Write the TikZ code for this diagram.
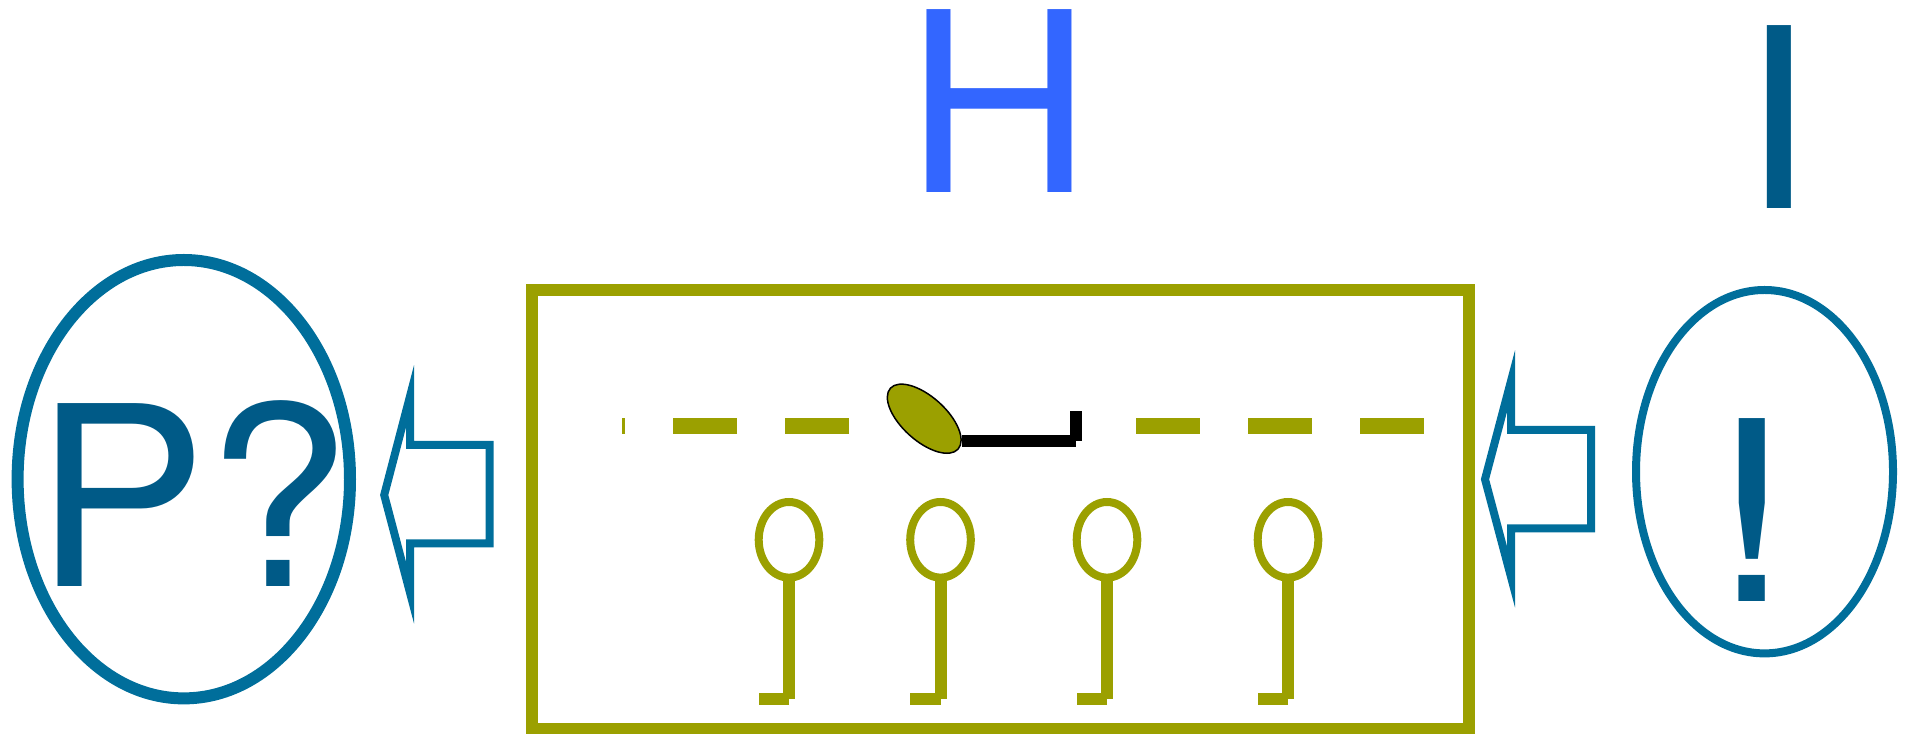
\documentclass[tikz,border=0pt]{standalone}
\usepackage{fontspec}
\setmainfont[FakeStretch=1.03]{TeX Gyre Heros}
\newfontfamily\widefont[FakeStretch=1.25]{TeX Gyre Heros}
\usetikzlibrary{shapes.geometric}
\definecolor{olivec}{RGB}{155,160,0}
\definecolor{tealc}{RGB}{0,110,155}
\definecolor{darkc}{RGB}{0,90,135}
\definecolor{bluec}{RGB}{51,102,255}
\tikzset{
  bigtext/.style={anchor=base west,inner sep=0,text=darkc,font=\fontsize{71.4}{71.4}\selectfont},
  pinring/.style={draw=olivec,line width=.8mm,shape=ellipse,inner sep=0,minimum width=6.06mm,minimum height=7.56mm},
  pinline/.style={draw=olivec,line width=1.2mm},
  openarrow/.style={draw=tealc,line width=.8mm,miter limit=10}
}
\begin{document}
\begin{tikzpicture}[x=.1mm,y=-.1mm]
  \useasboundingbox (0,0) rectangle (1907,733.5);
  % frame and the dashed track
  \draw[olivec,line width=1.2mm] (531.7,290) rectangle (1469.3,729);
  \draw[olivec,line width=1.63mm,dash pattern=on 6.4mm off 4.8mm] (849,426.2) -- (622,426.2);
  \draw[olivec,line width=1.63mm,dash pattern=on 6.4mm off 4.8mm] (1136,426.2) -- (1424,426.2);
  % lever
  \node[draw=black,fill=olivec,line width=.15mm,shape=ellipse,inner sep=0,minimum width=9.1mm,minimum height=4.4mm,rotate=-42] (toggle) at (924.2,418.7) {};
  \coordinate (knee) at (1076,441.3);
  \coordinate (leverend) at (1076,410.7);
  \draw[line width=1.2mm] (toggle.10 |- knee) -- (knee);
  \draw[line width=1.2mm] (knee) -- (leverend);
  % pins
  \foreach \x/\name in {789/pina,940.5/pinb,1107/pinc,1288/pind} {
    \node[pinring] (\name) at (\x,539.8) {};
    \coordinate (\name foot) at (\x,699);
    \draw[pinline] ([yshift=.4mm]\name.south) -- (\name foot);
    \draw[pinline] (\name foot) -- +(-30.5,0);
  }
  % left side
  \node[draw=tealc,line width=1.2mm,shape=ellipse,inner sep=0,minimum width=33.24mm,minimum height=43.84mm] (query) at (183.8,479.2) {};
  \node[bigtext] (querytext) at (33.8,586.7) {P?};
  \draw[openarrow] (384.2,495) -- (410,396.3) -- (410,445) -- (489.7,445) -- (489.7,543.3) -- (410,543.3) -- (410,592.7) -- cycle;
  % right side
  \node[draw=tealc,line width=.8mm,shape=ellipse,inner sep=0,minimum width=25.7mm,minimum height=36.34mm] (answer) at (1764.5,471.7) {};
  \node[bigtext] (answertext) at (1708,601.3) {\widefont !};
  \draw[openarrow] (1485,479.3) -- (1511,381) -- (1511,430) -- (1591,430) -- (1591,528.3) -- (1511,528.3) -- (1511,577) -- cycle;
  % top letters
  \node[bigtext,text=bluec] (hletter) at (904.6,192.7) {H};
  \node[bigtext] (iletter) at (1740.6,209) {I};
\end{tikzpicture}
\end{document}
